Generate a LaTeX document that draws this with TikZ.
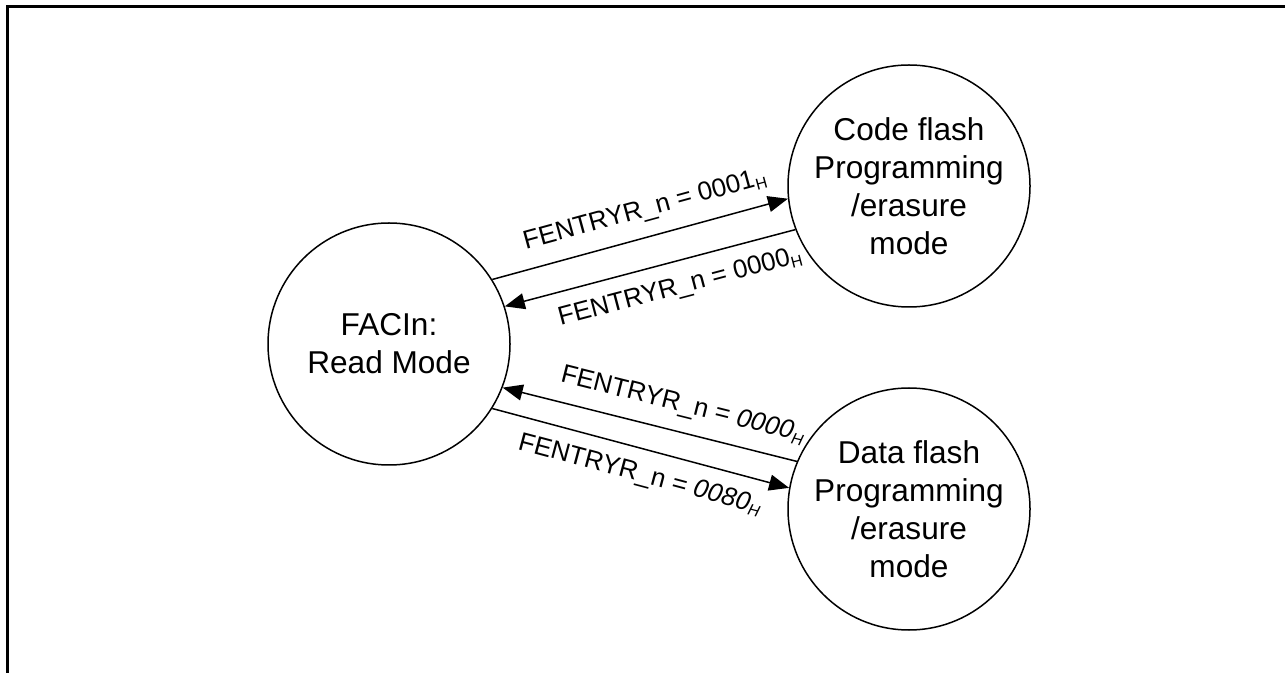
\documentclass[tikz,border=0pt]{standalone}
\usepackage{fontspec}
\setmainfont{Liberation Sans}
\usetikzlibrary{arrows.meta}

\newcommand{\hsub}{\raisebox{-0.3ex}{\fontsize{8}{8}\selectfont H}}

\begin{document}
\begin{tikzpicture}[x=0.5pt, y=-0.5pt,
    modecirc/.style={draw, circle, line width=0.75pt, minimum size=121pt,
                     inner sep=0pt, align=center,
                     font=\fontsize{15.8}{19}\selectfont},
    trans/.style={line width=0.75pt, -{Triangle[length=10pt,width=8pt]}},
    cond/.style={font=\fontsize{13}{15}\selectfont, sloped, inner sep=2pt}]
  \useasboundingbox (0,0) rectangle (1285,673);
  \draw[line width=1.5pt] (7,673) -- (7,7) -- (1285,7);

  \node[modecirc] (read) at (389,344) {FACIn:\\Read Mode};
  \node[modecirc] (code) at (909,186) {Code flash\\Programming\\/erasure\\mode};
  \node[modecirc] (data) at (909,509) {Data flash\\Programming\\/erasure\\mode};

  \draw[trans] (read.32) -- (code.186)
    node[cond, pos=0.54, above=5pt] {FENTRYR\_n = 0001\hsub};
  \draw[trans] (code.201) -- (read.18)
    node[cond, pos=0.42, below=5pt] {FENTRYR\_n = 0000\hsub};
  \draw[trans] (data.157) -- (read.-21)
    node[cond, pos=0.41, above=5pt] {FENTRYR\_n = \textit{0000\hsub}};
  \draw[trans] (read.-32) -- (data.170)
    node[cond, pos=0.52, below=5pt] {FENTRYR\_n = \textit{0080\hsub}};
\end{tikzpicture}
\end{document}
